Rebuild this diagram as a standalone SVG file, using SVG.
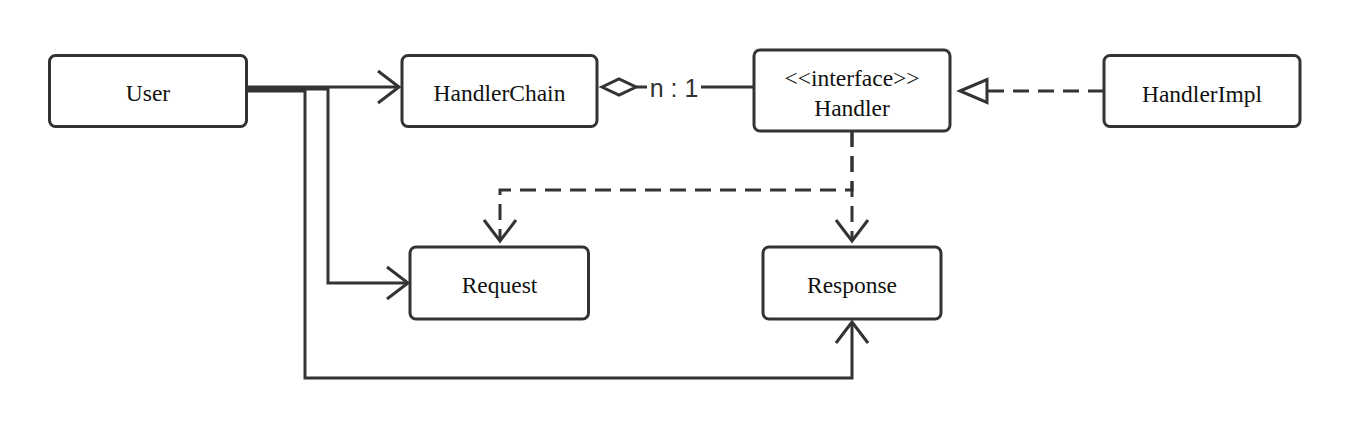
<svg xmlns="http://www.w3.org/2000/svg" width="1350" height="429" viewBox="0 0 1350 429">
<defs>
<style>
.box{fill:#fff;stroke:#333;stroke-width:3}
.lbl{font-family:"Liberation Serif","Times New Roman",serif;font-size:23.5px;fill:#111;text-anchor:middle}
.edge{fill:none;stroke:#333;stroke-width:3}
.dash{stroke-dasharray:16 9}
.mult{font-family:"Liberation Sans",Arial,sans-serif;font-size:25px;fill:#333;text-anchor:middle}
</style>
<marker id="open" markerUnits="userSpaceOnUse" markerWidth="30" markerHeight="40" refX="0" refY="0" viewBox="-25 -20 30 40" orient="auto" overflow="visible">
<path d="M-21 -16 L0 0 L-21 16" fill="none" stroke="#333" stroke-width="3"/>
</marker>
</defs>
<rect width="1350" height="429" fill="#fff"/>
<g id="connectors">
<path class="edge" d="M246.5 87 H399" marker-end="url(#open)"/>
<path class="edge" d="M246.5 89 H328 V283 H408" marker-end="url(#open)"/>
<path class="edge" d="M246.5 91 H305 V378 H852 V322" marker-end="url(#open)"/>
<path class="edge" d="M636 87 H754"/>
<rect x="647" y="72" width="54" height="30" fill="#fff"/>
<text class="mult" x="674" y="97">n : 1</text>
<polygon points="602,87 619,79 636,87 619,95" fill="#fff" stroke="#333" stroke-width="3"/>
<path class="edge dash" d="M1104 91 H988"/>
<polygon points="960,91 987,79.5 987,102.5" fill="#fff" stroke="#333" stroke-width="3"/>
<path class="edge dash" d="M852 131 V190 H500 V241" marker-end="url(#open)"/>
<path class="edge dash" d="M852 131 V241" marker-end="url(#open)"/>
</g>
<g id="node-user">
<rect class="box" x="49.5" y="55.5" width="197" height="71" rx="6"/>
<text class="lbl" x="148" y="101">User</text>
</g>
<g id="node-handlerchain">
<rect class="box" x="402" y="55.5" width="195" height="71" rx="6"/>
<text class="lbl" x="499.5" y="101">HandlerChain</text>
</g>
<g id="node-handler">
<rect class="box" x="754" y="50" width="196" height="81" rx="6"/>
<text class="lbl" x="852" y="86">&lt;&lt;interface&gt;&gt;</text>
<text class="lbl" x="852" y="115.5">Handler</text>
</g>
<g id="node-handlerimpl">
<rect class="box" x="1104" y="55.5" width="196" height="71" rx="6"/>
<text class="lbl" x="1202" y="101.5">HandlerImpl</text>
</g>
<g id="node-request">
<rect class="box" x="410" y="247" width="178.5" height="72" rx="6"/>
<text class="lbl" x="499.5" y="293">Request</text>
</g>
<g id="node-response">
<rect class="box" x="763" y="247" width="178" height="72" rx="6"/>
<text class="lbl" x="852" y="293">Response</text>
</g>
</svg>
